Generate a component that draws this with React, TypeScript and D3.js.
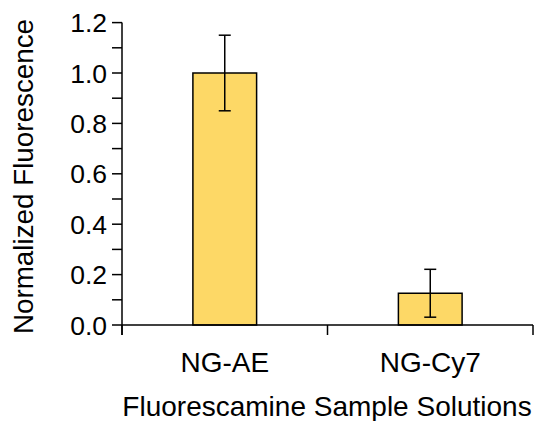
import React from "react";
import * as d3 from "d3";

const categories = ["NG-AE", "NG-Cy7"];
const values = [1.0, 0.126];
const errors = [0.15, 0.095];
const yTicks = [0, 0.2, 0.4, 0.6, 0.8, 1.0, 1.2];
const yMinorTicks = [0.1, 0.3, 0.5, 0.7, 0.9, 1.1];

const width = 536;
const height = 421;
const margin = { top: 22.6, right: 3, bottom: 96, left: 122 };
const font = "'Liberation Sans', Arial, Helvetica, sans-serif";

export default function App() {
  const x = d3
    .scaleBand<string>()
    .domain(categories)
    .range([margin.left, width - margin.right])
    .padding(0);

  const y = d3
    .scaleLinear()
    .domain([0, 1.2])
    .range([height - margin.bottom, margin.top]);

  const barWidth = x.bandwidth() * 0.31;
  const y0 = y(0);
  const tickLen = 10;
  const boundaries = [...categories.map((c) => x(c) as number), x.range()[1]];

  return (
    <svg
      width={width}
      height={height}
      style={{ position: "absolute", left: 0, top: 0, background: "#fff" }}
      fontFamily={font}
    >
      {/* bars */}
      {categories.map((c, i) => {
        const cx = (x(c) as number) + x.bandwidth() / 2;
        return (
          <rect
            key={c}
            x={cx - barWidth / 2}
            y={y(values[i])}
            width={barWidth}
            height={y0 - y(values[i])}
            fill="#fdd866"
            stroke="#000"
            strokeWidth={1.5}
          />
        );
      })}

      {/* error bars */}
      {categories.map((c, i) => {
        const cx = (x(c) as number) + x.bandwidth() / 2;
        const hi = y(values[i] + errors[i]);
        const lo = y(values[i] - errors[i]);
        return (
          <g key={c} stroke="#000" strokeWidth={1.5}>
            <line x1={cx} x2={cx} y1={hi} y2={lo} />
            <line x1={cx - 6} x2={cx + 6} y1={hi} y2={hi} />
            <line x1={cx - 6} x2={cx + 6} y1={lo} y2={lo} />
          </g>
        );
      })}

      {/* y axis */}
      <g stroke="#000" strokeWidth={1.5}>
        <line x1={margin.left} x2={margin.left} y1={y(1.2)} y2={y0 + tickLen} />
        {yTicks.concat(yMinorTicks).map((t) => (
          <line key={t} x1={margin.left - tickLen} x2={margin.left} y1={y(t)} y2={y(t)} />
        ))}
      </g>
      {yTicks.map((t) => (
        <text
          key={t}
          x={margin.left - 15}
          y={y(t)}
          dy="0.36em"
          textAnchor="end"
          fontSize={26.5}
          fill="#000"
        >
          {d3.format(".1f")(t)}
        </text>
      ))}

      {/* x axis */}
      <g stroke="#000" strokeWidth={1.5}>
        <line x1={margin.left} x2={x.range()[1]} y1={y0} y2={y0} />
        {boundaries.map((b, i) => (
          <line key={i} x1={b} x2={b} y1={y0} y2={y0 + tickLen} />
        ))}
      </g>
      {categories.map((c) => (
        <text
          key={c}
          x={(x(c) as number) + x.bandwidth() / 2}
          y={371.5}
          textAnchor="middle"
          fontSize={28}
          fill="#000"
        >
          {c}
        </text>
      ))}

      {/* axis titles */}
      <text x={327} y={416} textAnchor="middle" fontSize={28} fill="#000">
        Fluorescamine Sample Solutions
      </text>
      <text
        transform={`translate(33, 176.5) rotate(-90)`}
        textAnchor="middle"
        fontSize={27.8}
        fill="#000"
      >
        Normalized Fluorescence
      </text>
    </svg>
  );
}
